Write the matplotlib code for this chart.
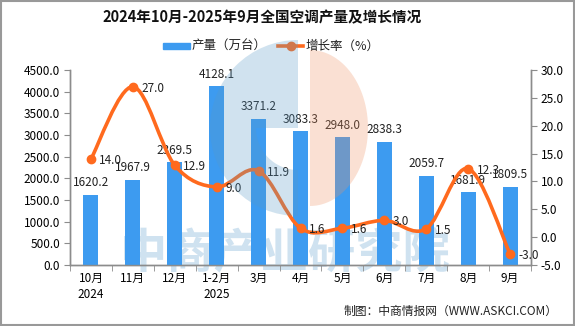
import matplotlib.pyplot as plt
import numpy as np
from matplotlib.path import Path
from matplotlib.patches import PathPatch, Wedge, Polygon, Rectangle

plt.rcParams['font.family'] = ['Noto Sans CJK SC', 'DejaVu Sans']

months = ['10月\n2024', '11月', '12月', '1-2月\n2025', '3月', '4月', '5月',
          '6月', '7月', '8月', '9月']
output = [1620.2, 1967.9, 2369.5, 4128.1, 3371.2, 3083.3, 2948.0, 2838.3,
          2059.7, 1681.9, 1809.5]
growth = [14.0, 27.0, 12.9, 9.0, 11.9, 1.6, 1.6, 3.0, 1.5, 12.3, -3.0]

BAR = '#3d9bf0'
LINE = '#ff6a1e'
GREY = '#8c8c8c'

W, H = 575, 326
fig = plt.figure(figsize=(W / 100, H / 100), dpi=100)
ax = fig.add_axes([70 / W, 1 - 265 / H, 461 / W, 195 / H])
ax2 = ax.twinx()

x = np.arange(len(months))
ax.bar(x, output, width=0.36, color=BAR, zorder=3)
for xi, v in zip(x, output):
    ax.annotate(f'{v:.1f}', (xi, v), xytext=(0, 4), textcoords='offset points',
                ha='center', va='bottom', fontsize=8.5, color='#222222', zorder=5)

ax.set_xlim(-0.5, len(months) - 0.5)
ax.set_ylim(0, 4500)
ax.set_yticks(np.arange(0, 4501, 500))
ax.set_yticklabels([f'{t:.1f}' for t in np.arange(0, 4501, 500)])
ax.set_xticks(x)
ax.set_xticklabels(months, fontsize=8.5, linespacing=1.35)
ax.set_xticks(np.arange(-0.5, len(months), 1), minor=True)
ax.tick_params(axis='x', which='major', length=0, pad=5)
ax.tick_params(axis='x', which='minor', length=4, color=GREY)
ax.tick_params(axis='y', length=4, color=GREY, labelsize=8.5, pad=3)

ax2.set_ylim(-5, 30)
ax2.set_yticks(np.arange(-5, 31, 5))
ax2.set_yticklabels([f'{t:.1f}' for t in np.arange(-5, 31, 5)])
ax2.tick_params(axis='y', length=4, color=GREY, labelsize=8.5, pad=3)

for a in (ax, ax2):
    a.spines['top'].set_visible(False)
    for s in ('left', 'right', 'bottom'):
        a.spines[s].set_color(GREY)
        a.spines[s].set_linewidth(1)

# smooth growth curve: cubic bezier segments through each point
pts = np.column_stack([x, growth]).astype(float)
verts = [pts[0]]
codes = [Path.MOVETO]
n = len(pts)
for i in range(n - 1):
    p0 = pts[max(i - 1, 0)]
    p1 = pts[i]
    p2 = pts[i + 1]
    p3 = pts[min(i + 2, n - 1)]
    c1 = p1 + (p2 - p0) / 6
    c2 = p2 - (p3 - p1) / 6
    verts += [c1, c2, p2]
    codes += [Path.CURVE4] * 3
ax2.add_patch(PathPatch(Path(verts, codes), fill=False, ec=LINE, lw=2.6,
                        capstyle='round', zorder=4))
ax2.plot(x, growth, 'o', color=LINE, ms=6, zorder=5)
for xi, g in zip(x, growth):
    ax2.annotate(f'{g:.1f}', (xi, g), xytext=(6, -1), textcoords='offset points',
                 ha='left', va='center', fontsize=8.5, color='#222222', zorder=6)

# legend
fig.add_artist(Rectangle((163 / W, 1 - 49 / H), 27 / W, 6 / H,
                         transform=fig.transFigure, color=BAR))
fig.text(192 / W, 1 - 46 / H, '产量（万台）', fontsize=9, va='center', color='#222222')
fig.add_artist(plt.Line2D([278 / W, 303 / W], [1 - 46 / H, 1 - 46 / H],
                          transform=fig.transFigure, color=LINE, lw=2.6))
fig.add_artist(plt.Line2D([290.5 / W], [1 - 46 / H], transform=fig.transFigure,
                          marker='o', ms=6, color=LINE))
fig.text(306 / W, 1 - 46 / H, '增长率（%）', fontsize=9, va='center', color='#222222')

fig.text(262 / W, 1 - 17 / H, '2024年10月-2025年9月全国空调产量及增长情况',
         ha='center', va='center', fontsize=10.5, fontweight='bold', color='#111111')
fig.text(558 / W, 1 - 311 / H, '制图：中商情报网（WWW.ASKCI.COM）',
         ha='right', va='center', fontsize=8.5, color='#222222')

# watermark behind the bars
ax.text(0.468, 0.06, '中商产业研究院', transform=ax.transAxes, ha='center',
        va='center', fontsize=34, fontweight='bold', color='#cfe2f0', zorder=1)

# logo overlay in pixel space
ov = fig.add_axes([0, 0, 1, 1], zorder=10)
ov.set_xlim(0, W)
ov.set_ylim(H, 0)
ov.axis('off')
ov.patch.set_alpha(0)
cx, cy, r = 298, 128, 88
ov.add_patch(Wedge((cx, cy), r, 180, 270, color='#5899c6', alpha=0.28, lw=0))
ov.add_patch(Wedge((cx, cy), r, 90, 180, width=46, color='#5899c6', alpha=0.28, lw=0))
t = np.linspace(-np.pi / 2, np.pi / 2, 60)
ov.add_patch(Polygon(np.column_stack([310 + 58 * np.cos(t), 128 + 78 * np.sin(t)]),
                     closed=True, color='#ee9162', alpha=0.28, lw=0))

fig.add_artist(Rectangle((0.001, 0.002), 0.997, 0.995, transform=fig.transFigure,
                         fill=False, ec='#999999', lw=1.5))

fig.savefig('out.png', dpi=100)
